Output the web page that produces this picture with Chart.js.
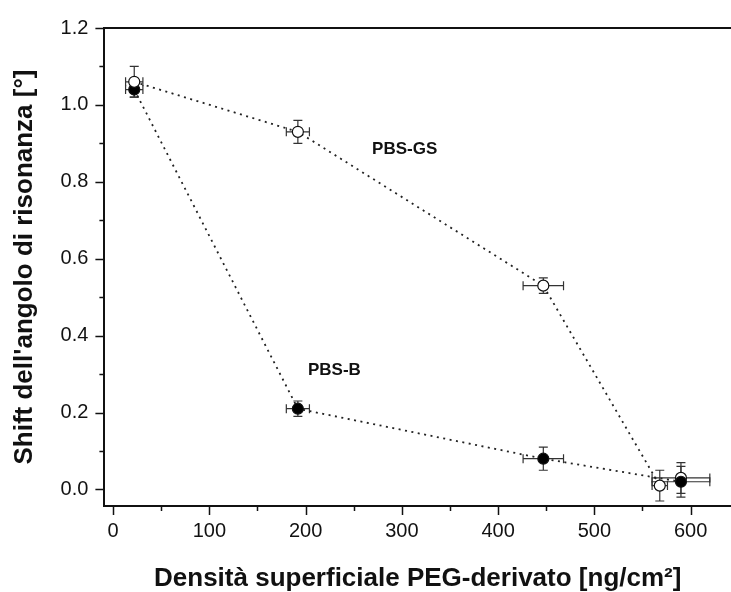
<!DOCTYPE html>
<html>
<head>
<meta charset="utf-8">
<script src="https://cdn.jsdelivr.net/npm/chart.js@4.4.0/dist/chart.umd.min.js"></script>
<style>
html, body { margin: 0; padding: 0; background: #fff; }
#wrap { width: 731px; height: 592px; }
</style>
</head>
<body>
<div id="wrap"><canvas id="chart" width="731" height="592"></canvas></div>
<script>
// Dati
const gsX = [22, 192, 447, 568];
const gsY = [1.06, 0.93, 0.53, 0.01];
const gsXErr = [9, 12, 21, 8];
const gsYErr = [0.04, 0.03, 0.02, 0.04];

const bX = [22, 192, 447, 590];
const bY = [1.04, 0.21, 0.08, 0.02];
const bXErr = [9, 12, 21, 30];
const bYErr = [0.02, 0.02, 0.03, 0.04];

// punto aperto isolato a destra
const extraX = [590];
const extraY = [0.03];
const extraXErr = [30];
const extraYErr = [0.04];

const xTicks = [0, 50, 100, 150, 200, 250, 300, 350, 400, 450, 500, 550, 600];
const yTicks = [0, 0.1, 0.2, 0.3, 0.4, 0.5, 0.6, 0.7, 0.8, 0.9, 1.0, 1.1, 1.2];

const seriesNames = ['PBS-GS', 'PBS-B'];
const nameX = [303, 230];
const nameY = [0.884, 0.309];

const FONT = "'Liberation Sans', Arial, sans-serif";

function toPoints(xs, ys) {
    return xs.map((x, i) => ({ x: x, y: ys[i] }));
}

// barre d'errore disegnate con le scale del grafico
const errorBars = {
    id: 'errorBars',
    beforeDatasetsDraw(chart) {
        const ctx = chart.ctx;
        const xs = chart.scales.x, ys = chart.scales.y;
        ctx.save();
        ctx.strokeStyle = '#333';
        ctx.lineWidth = 1.2;
        chart.data.datasets.forEach(ds => {
            if (!ds.errX) return;
            ds.data.forEach((p, i) => {
                const px = xs.getPixelForValue(p.x);
                const py = ys.getPixelForValue(p.y);
                const x1 = xs.getPixelForValue(p.x - ds.errX[i]);
                const x2 = xs.getPixelForValue(p.x + ds.errX[i]);
                const y1 = ys.getPixelForValue(p.y - ds.errY[i]);
                const y2 = ys.getPixelForValue(p.y + ds.errY[i]);
                const c = 4.5;
                ctx.beginPath();
                ctx.moveTo(x1, py); ctx.lineTo(x2, py);
                ctx.moveTo(x1, py - c); ctx.lineTo(x1, py + c);
                ctx.moveTo(x2, py - c); ctx.lineTo(x2, py + c);
                ctx.moveTo(px, y1); ctx.lineTo(px, y2);
                ctx.moveTo(px - c, y1); ctx.lineTo(px + c, y1);
                ctx.moveTo(px - c, y2); ctx.lineTo(px + c, y2);
                ctx.stroke();
            });
        });
        ctx.restore();
    }
};

// tacche maggiori/minori, bordo superiore ed etichette delle serie
const frame = {
    id: 'frame',
    afterDraw(chart) {
        const ctx = chart.ctx;
        const a = chart.chartArea;
        const xs = chart.scales.x, ys = chart.scales.y;
        ctx.save();
        ctx.strokeStyle = '#111';
        ctx.lineWidth = 1.5;
        ctx.beginPath();
        xTicks.forEach((v, i) => {
            const px = Math.round(xs.getPixelForValue(v)) + 0.5;
            const len = i % 2 === 0 ? 9 : 5;
            ctx.moveTo(px, a.bottom);
            ctx.lineTo(px, a.bottom + len);
        });
        yTicks.forEach((v, i) => {
            const py = Math.round(ys.getPixelForValue(v)) + 0.5;
            const len = i % 2 === 0 ? 9 : 5;
            ctx.moveTo(a.left, py);
            ctx.lineTo(a.left - len, py);
        });
        ctx.stroke();

        ctx.lineWidth = 2;
        ctx.beginPath();
        ctx.moveTo(a.left - 1, a.top);
        ctx.lineTo(a.right, a.top);
        ctx.stroke();

        ctx.fillStyle = '#111';
        ctx.font = 'bold 17px ' + FONT;
        ctx.textAlign = 'center';
        ctx.textBaseline = 'middle';
        seriesNames.forEach((t, i) => {
            ctx.fillText(t, xs.getPixelForValue(nameX[i]), ys.getPixelForValue(nameY[i]));
        });
        ctx.restore();
    }
};

const lineStyle = {
    borderColor: '#222',
    borderWidth: 1.8,
    borderDash: [2, 4.5],
    pointRadius: 5.5,
    pointBorderColor: '#111',
    pointBorderWidth: 1.2,
    showLine: true,
    tension: 0
};

const chart = new Chart(document.getElementById('chart').getContext('2d'), {
    type: 'scatter',
    data: {
        datasets: [
            Object.assign({
                label: seriesNames[0],
                data: toPoints(gsX, gsY),
                errX: gsXErr, errY: gsYErr,
                pointBackgroundColor: '#fff'
            }, lineStyle),
            Object.assign({
                label: seriesNames[1],
                data: toPoints(bX, bY),
                errX: bXErr, errY: bYErr,
                pointBackgroundColor: '#000'
            }, lineStyle),
            Object.assign({}, lineStyle, {
                label: seriesNames[0],
                data: toPoints(extraX, extraY),
                errX: extraXErr, errY: extraYErr,
                pointBackgroundColor: '#fff',
                showLine: false
            })
        ]
    },
    options: {
        responsive: false,
        animation: false,
        layout: { autoPadding: false, padding: { left: 0, right: 0, top: 26, bottom: -2 } },
        plugins: { legend: { display: false }, tooltip: { enabled: false } },
        scales: {
            x: {
                type: 'linear',
                min: -9,
                max: 642,
                afterBuildTicks: s => { s.ticks = xTicks.map(v => ({ value: v })); },
                afterFit: s => { s.paddingRight = 0; },
                ticks: {
                    autoSkip: false,
                    maxRotation: 0,
                    padding: 13,
                    color: '#111',
                    font: { family: FONT, size: 20 },
                    callback: (v, i) => (i % 2 === 0 ? String(xTicks[i]) : '')
                },
                grid: { display: false, drawTicks: false },
                border: { display: true, color: '#111', width: 2 },
                title: {
                    display: true,
                    text: 'Densità superficiale PEG-derivato [ng/cm²]',
                    color: '#111',
                    font: { family: FONT, size: 26, weight: 'bold' },
                    padding: { top: 6.8, bottom: 0 }
                }
            },
            y: {
                type: 'linear',
                min: -0.043,
                max: 1.2,
                afterBuildTicks: s => { s.ticks = yTicks.map(v => ({ value: v })); },
                ticks: {
                    autoSkip: false,
                    padding: 16,
                    color: '#111',
                    font: { family: FONT, size: 20 },
                    callback: (v, i) => (i % 2 === 0 ? yTicks[i].toFixed(1) : '')
                },
                grid: { display: false, drawTicks: false },
                border: { display: true, color: '#111', width: 2 },
                title: {
                    display: true,
                    text: "Shift dell'angolo di risonanza [°]",
                    color: '#111',
                    font: { family: FONT, size: 26, weight: 'bold' },
                    padding: { top: 9.4, bottom: 4 }
                }
            }
        }
    },
    plugins: [errorBars, frame]
});
</script>
</body>
</html>
